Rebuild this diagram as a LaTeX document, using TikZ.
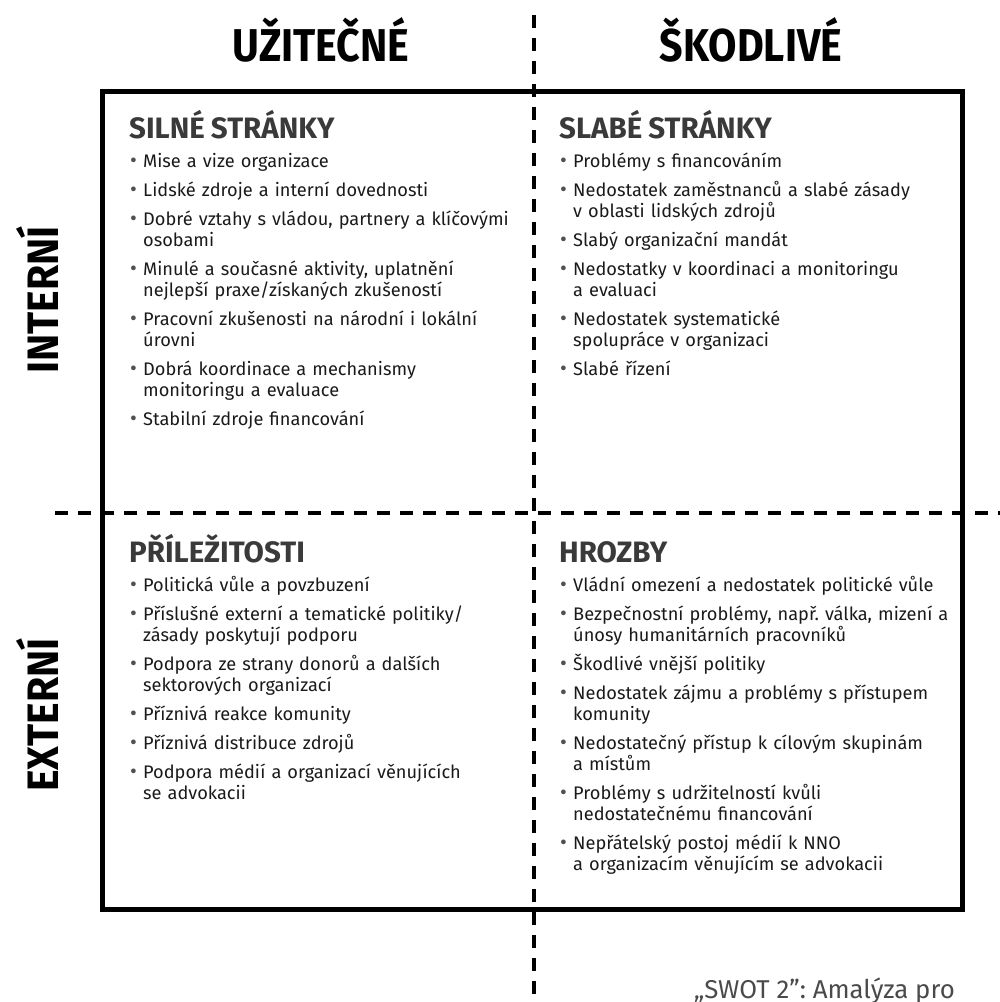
\documentclass[tikz,border=0pt]{standalone}
\usepackage{fontspec}
\setmainfont{Fira Sans}
\newfontfamily\condfont{Fira Sans}[FakeStretch=0.895]
\newfontfamily\sidefont{Fira Sans}[FakeStretch=0.93]
\definecolor{titlec}{HTML}{3A3A3A}
\definecolor{bodyc}{HTML}{1A1A1A}
\definecolor{bulletc}{HTML}{505050}
\definecolor{capc}{HTML}{4A4A4A}

% quadrant title and bullet items
\newcommand\qtitle[1]{\setlength\parskip{0pt}\noindent{\color{titlec}\fontsize{29.5}{31}\selectfont\bfseries #1\par}\setlength\parskip{8pt}}
\newcommand\qitem{\par\hangindent=14pt\hangafter=1\noindent\hspace*{1pt}\makebox[13pt][l]{\color{bulletc}\scalebox{1.15}{\textbullet}}}

\begin{document}
\frenchspacing
\begin{tikzpicture}[x=1pt,y=-1pt,
  frame/.style={line width=5pt},
  divider/.style={line width=4.5pt, dash pattern=on 13pt off 10pt},
  axishead/.style={font=\condfont\bfseries\fontsize{46}{50}\selectfont, anchor=base, inner sep=0pt},
  sidehead/.style={font=\sidefont\bfseries\fontsize{44}{48}\selectfont, anchor=base, inner sep=0pt, rotate=90},
  quad/.style={anchor=base west, inner sep=0pt, text width=410pt, align=left,
    font=\fontsize{18.2}{21}\selectfont, text=bodyc},
  caption/.style={anchor=base east, inner sep=0pt, font=\fontsize{25.8}{27}\selectfont, text=capc},
]
\useasboundingbox (0,0) rectangle (1000,1002);
\clip (0,0) rectangle (1000,1002);

% outer frame
\draw[frame] (102,91.5) rectangle (962,909.5);

% dividing axes
\coordinate (vtop) at (534,15);
\coordinate (vbot) at (534,1002);
\coordinate (hleft) at (55,513);
\coordinate (hright) at (1000,513);
\draw[divider] (vtop) -- (vbot);
\draw[divider] (hleft) -- (hright);

% column and row headings
\node[axishead] (useful) at (321,61) {UŽITEČNÉ};
\node[axishead] (harmful) at (751,61) {ŠKODLIVÉ};
\node[sidehead] (internal) at (58,300) {INTERNÍ};
\node[sidehead] (external) at (58,715) {EXTERNÍ};

% quadrants
\node[quad] (strengths) at (129,138) {\qtitle{SILNÉ STRÁNKY}%
\qitem Mise a vize organizace
\qitem Lidské zdroje a interní dovednosti
\qitem Dobré vztahy s vládou, partnery a klíčovými\newline osobami
\qitem Minulé a současné aktivity, uplatnění\newline nejlepší praxe/získaných zkušeností
\qitem Pracovní zkušenosti na národní i lokální\newline úrovni
\qitem Dobrá koordinace a mechanismy\newline monitoringu a evaluace
\qitem Stabilní zdroje financování\par};

\node[quad] (weaknesses) at (559,138) {\qtitle{SLABÉ STRÁNKY}%
\qitem Problémy s financováním
\qitem Nedostatek zaměstnanců a slabé zásady\newline v oblasti lidských zdrojů
\qitem Slabý organizační mandát
\qitem Nedostatky v koordinaci a monitoringu\newline a evaluaci
\qitem Nedostatek systematické\newline spolupráce v organizaci
\qitem Slabé řízení\par};

\node[quad] (opportunities) at (129,562) {\qtitle{PŘÍLEŽITOSTI}%
\qitem Politická vůle a povzbuzení
\qitem Příslušné externí a tematické politiky/\newline zásady poskytují podporu
\qitem Podpora ze strany donorů a dalších\newline sektorových organizací
\qitem Příznivá reakce komunity
\qitem Příznivá distribuce zdrojů
\qitem Podpora médií a organizací věnujících\newline se advokacii\par};

\node[quad] (threats) at (559,562) {\qtitle{HROZBY}%
\qitem Vládní omezení a nedostatek politické vůle
\qitem Bezpečnostní problémy, např. válka, mizení a\newline únosy humanitárních pracovníků
\qitem Škodlivé vnější politiky
\qitem Nedostatek zájmu a problémy s přístupem\newline komunity
\qitem Nedostatečný přístup k cílovým skupinám\newline a místům
\qitem Problémy s udržitelností kvůli\newline nedostatečnému financování
\qitem Nepřátelský postoj médií k NNO\newline a organizacím věnujícím se advokacii\par};

% caption
\node[caption] (source) at (955,998) {„SWOT 2”: Amalýza pro};
\end{tikzpicture}
\end{document}
